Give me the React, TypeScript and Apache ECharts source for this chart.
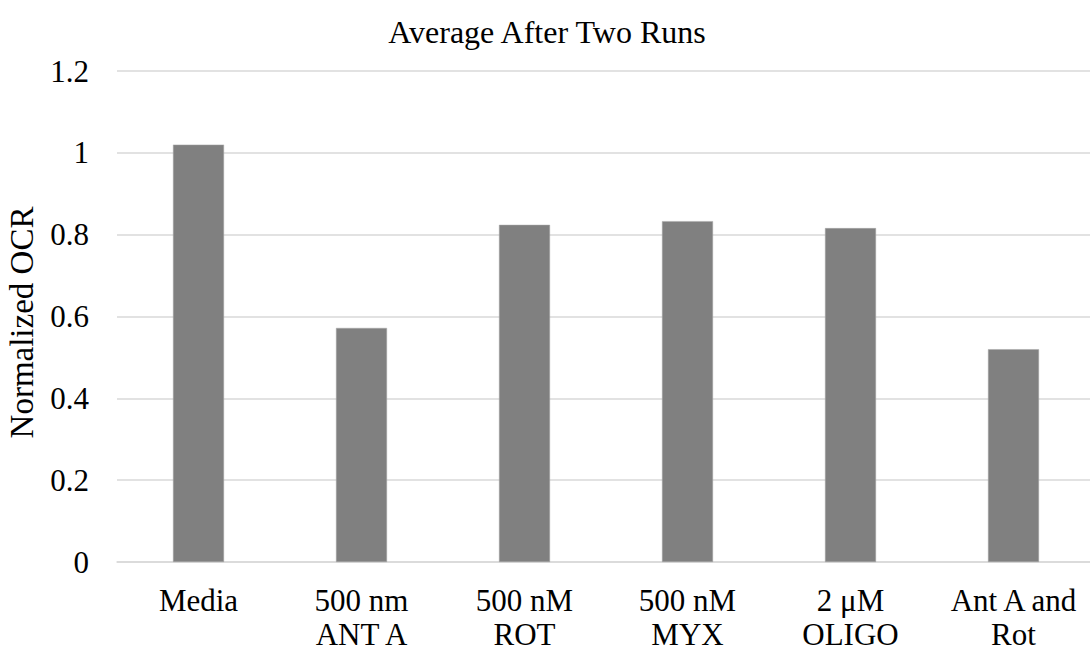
import React, { useEffect, useRef } from "react";
import * as echarts from "echarts";

const categories = ["Media", "500 nm\nANT A", "500 nM\nROT", "500 nM\nMYX", "2 μM\nOLIGO", "Ant A and\nRot"];
const values = [1.02, 0.572, 0.824, 0.833, 0.816, 0.52];
const titleText = "Average After Two Runs";
const yAxisName = "Normalized OCR";

export default function App() {
  const ref = useRef<HTMLDivElement>(null);
  useEffect(() => {
    if (!ref.current) return;
    const chart = echarts.init(ref.current, null, { renderer: "svg" });
    const font = "Times New Roman";
    chart.setOption({
      animation: false,
      backgroundColor: "#ffffff",
      textStyle: { fontFamily: font },
      title: {
        text: titleText,
        left: 542,
        top: 11,
        textAlign: "center",
        textStyle: { fontFamily: font, fontSize: 32, fontWeight: "normal", color: "#000" },
      },
      grid: { left: 117, top: 71, width: 978, height: 491, containLabel: false, outerBoundsMode: "none" },
      xAxis: {
        type: "category",
        data: categories,
        axisLine: { show: true, lineStyle: { color: "#d9d9d9", width: 1.5 } },
        axisTick: { show: false },
        axisLabel: { fontFamily: font, fontSize: 31, color: "#000", margin: 21, lineHeight: 34, interval: 0 },
      },
      yAxis: {
        type: "value",
        min: 0,
        max: 1.2,
        interval: 0.2,
        name: yAxisName,
        nameLocation: "middle",
        nameGap: 79,
        nameTextStyle: { fontFamily: font, fontSize: 33, color: "#000", padding: [0, 12, 0, 0] },
        axisLine: { show: false },
        axisTick: { show: false },
        splitLine: { lineStyle: { color: "#d9d9d9", width: 1.5 } },
        axisLabel: {
          fontFamily: font,
          fontSize: 31,
          color: "#000",
          margin: 28,
          formatter: (v: number) => String(Math.round(v * 10) / 10),
        },
      },
      series: [
        {
          type: "bar",
          data: values,
          barWidth: 51,
          itemStyle: { color: "#808080", borderColor: "#a6a6a6", borderWidth: 0.5 },
        },
      ],
    });
    return () => chart.dispose();
  }, []);
  return (
    <div
      ref={ref}
      style={{ position: "absolute", left: 0, top: 0, width: 1090, height: 653, overflow: "hidden" }}
    />
  );
}
